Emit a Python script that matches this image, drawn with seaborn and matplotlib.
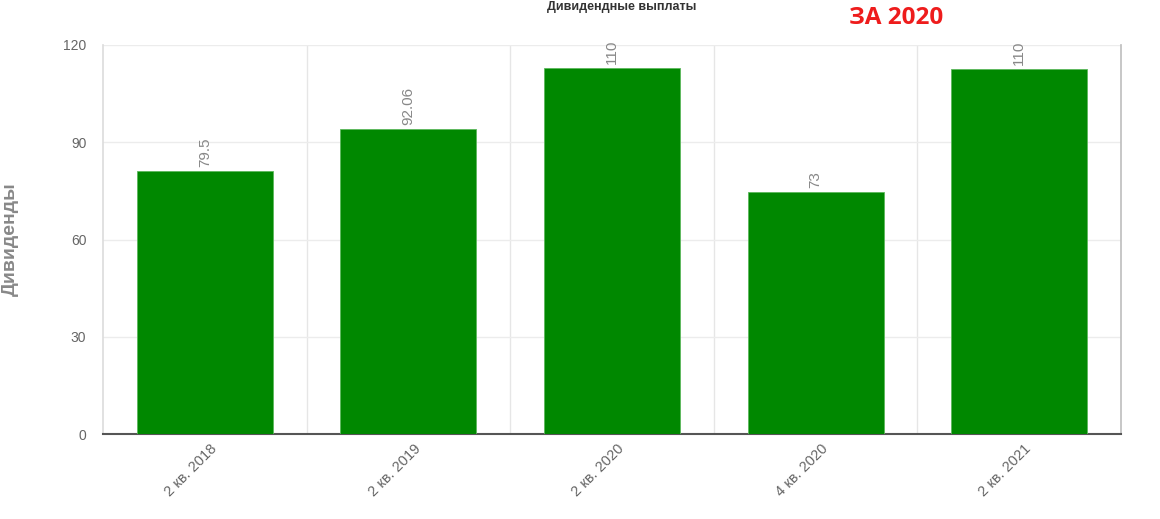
import matplotlib
matplotlib.use("Agg")
import matplotlib.pyplot as plt
import matplotlib.transforms as mtransforms
import seaborn as sns
import pandas as pd
import numpy as np

categories = ["2 кв. 2018", "2 кв. 2019", "2 кв. 2020", "4 кв. 2020", "2 кв. 2021"]
bar_heights = [81.1, 94.1, 113.0, 74.7, 112.6]
value_labels = ["79.5", "92.06", "110", "73", "110"]
y_ticks = [0, 30, 60, 90, 120]

sns.set_theme(style="white")
plt.rcParams["font.family"] = ["Liberation Sans", "DejaVu Sans"]

df = pd.DataFrame({"period": categories, "value": bar_heights})

fig = plt.figure(figsize=(11.6, 5.19), dpi=100)
ax = fig.add_axes([103 / 1160, 1 - 434 / 519, (1121 - 103) / 1160, (434 - 45) / 519])

sns.barplot(data=df, x="period", y="value", color="#008800", saturation=1,
            width=0.668, edgecolor="#5cb85c", linewidth=0.6, ax=ax, zorder=3)

ax.set_ylim(0, 120)
ax.set_xlim(-0.5, len(categories) - 0.5)
ax.set_yticks(y_ticks)
ax.set_yticklabels([str(t) for t in y_ticks], color="#666666", fontsize=10)
ax.set_xticks(range(len(categories)))
ax.set_xticklabels(categories, rotation=45, ha="right", va="center",
                   rotation_mode="anchor", color="#666666", fontsize=10.5)
ax.tick_params(axis="x", length=0, pad=12)
ax.tick_params(axis="y", length=0, pad=12)
for lab in ax.get_xticklabels():
    lab.set_transform(mtransforms.offset_copy(lab.get_transform(), fig=fig,
                                              x=10, y=4, units="dots"))

ax.set_xticks(np.arange(0.5, len(categories) - 0.5, 1), minor=True)
ax.tick_params(axis="x", which="minor", length=0)
ax.grid(axis="x", which="minor", color="#e6e6e6", linewidth=1, zorder=0)
ax.grid(axis="y", which="major", color="#ececec", linewidth=1, zorder=0)
ax.set_axisbelow(True)

ax.spines["left"].set_color("#dddddd")
ax.spines["right"].set_color("#c0c0c0")
ax.spines["top"].set_visible(False)
ax.spines["bottom"].set_color("#555555")
ax.spines["bottom"].set_linewidth(1.5)

ax.set_xlabel("")
ax.set_ylabel("Дивиденды", color="#888888", fontsize=14, fontweight="bold", labelpad=32)

for i, (h, lab) in enumerate(zip(bar_heights, value_labels)):
    ax.annotate(lab, xy=(i, h), xytext=(0, 3), textcoords="offset points",
                rotation=90, ha="center", va="bottom", color="#888888", fontsize=11)

fig.text(622 / 1160, 1 - 7 / 519, "Дивидендные выплаты", ha="center", va="center",
         fontsize=9, fontweight="bold", color="#333333")
fig.text(896 / 1160, 1 - 18 / 519, "ЗА 2020", ha="center", va="center",
         fontsize=17.5, fontweight="bold", color="#ee1c1c",
         family=["Open Sans", "DejaVu Sans"])

fig.savefig("out.png", dpi=100)
